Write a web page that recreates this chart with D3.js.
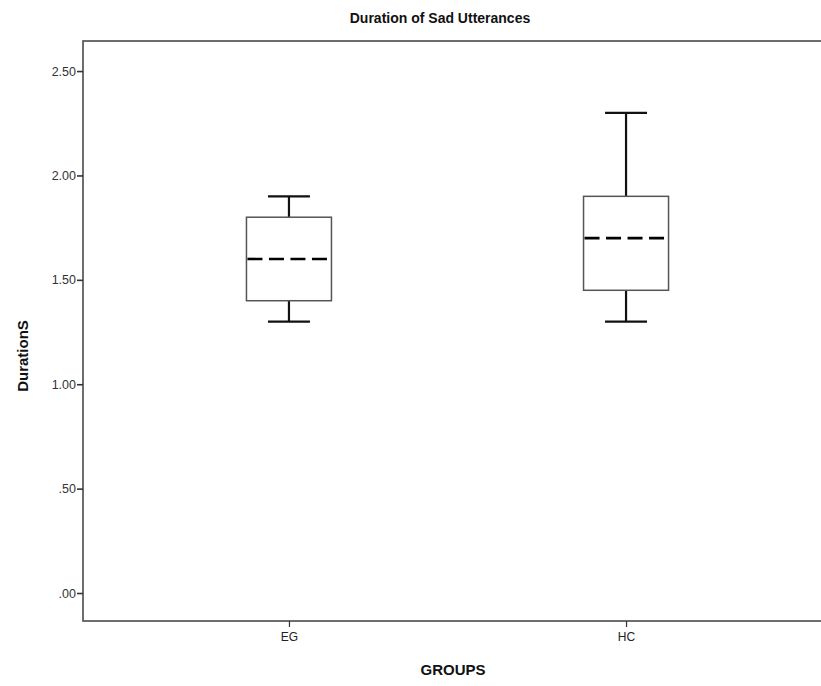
<!DOCTYPE html>
<html>
<head>
<meta charset="utf-8">
<script src="https://cdn.jsdelivr.net/npm/d3@7"></script>
<style>
  html, body { margin: 0; padding: 0; background: #fff; }
  svg { display: block; font-family: Arial, "Liberation Sans", sans-serif; }
</style>
</head>
<body>
<svg id="chart" width="821" height="686"></svg>
<script>
// Box-plot summaries per group (duration in seconds)
const groups = ["EG", "HC"];
const whiskerLow  = [1.30, 1.30];
const q1          = [1.40, 1.45];
const median      = [1.60, 1.70];
const q3          = [1.80, 1.90];
const whiskerHigh = [1.90, 2.30];
const yTicks = [0, 0.5, 1, 1.5, 2, 2.5];

const svg = d3.select("#chart");
const plot = { left: 83, right: 832, top: 41, bottom: 621 };

const x = d3.scalePoint().domain(groups).range([plot.left, plot.right]).padding(0.611);
const y = d3.scaleLinear().domain([-0.134, 2.644]).range([plot.bottom, plot.top]);

const fmt = v => d3.format(".2f")(v).replace(/^0/, "");

// Frame
svg.append("rect")
  .attr("x", plot.left).attr("y", plot.top)
  .attr("width", plot.right - plot.left).attr("height", plot.bottom - plot.top)
  .attr("fill", "none").attr("stroke", "#4a4a4a").attr("stroke-width", 1.6);

// Y axis
const yAxis = svg.append("g")
  .attr("transform", `translate(${plot.left},0)`)
  .call(d3.axisLeft(y).tickValues(yTicks).tickFormat(fmt).tickSize(6).tickPadding(1));
yAxis.select(".domain").remove();
yAxis.selectAll(".tick line").attr("stroke", "#333").attr("stroke-width", 1.6);
yAxis.selectAll(".tick text").attr("fill", "#333").style("font-size", "12.5px")
  .style("font-family", "Arial, 'Liberation Sans', sans-serif");

// X axis
const xAxis = svg.append("g")
  .attr("transform", `translate(0,${plot.bottom})`)
  .call(d3.axisBottom(x).tickSize(6).tickPadding(5));
xAxis.select(".domain").remove();
xAxis.selectAll(".tick line").attr("stroke", "#333").attr("stroke-width", 1.2);
xAxis.selectAll(".tick text").attr("fill", "#222").style("font-size", "12px")
  .style("font-family", "Arial, 'Liberation Sans', sans-serif");

// Boxes
const boxW = 85, capW = 42;
const data = groups.map((g, i) => ({
  g, lo: whiskerLow[i], q1: q1[i], med: median[i], q3: q3[i], hi: whiskerHigh[i]
}));
const box = svg.append("g").selectAll("g").data(data).join("g");

box.append("line")
  .attr("x1", d => x(d.g)).attr("x2", d => x(d.g))
  .attr("y1", d => y(d.hi)).attr("y2", d => y(d.q3))
  .attr("stroke", "#111").attr("stroke-width", 2.2);
box.append("line")
  .attr("x1", d => x(d.g)).attr("x2", d => x(d.g))
  .attr("y1", d => y(d.q1)).attr("y2", d => y(d.lo))
  .attr("stroke", "#111").attr("stroke-width", 2.2);
box.append("line")
  .attr("x1", d => x(d.g) - capW / 2).attr("x2", d => x(d.g) + capW / 2)
  .attr("y1", d => y(d.hi)).attr("y2", d => y(d.hi))
  .attr("stroke", "#111").attr("stroke-width", 2.2);
box.append("line")
  .attr("x1", d => x(d.g) - capW / 2).attr("x2", d => x(d.g) + capW / 2)
  .attr("y1", d => y(d.lo)).attr("y2", d => y(d.lo))
  .attr("stroke", "#111").attr("stroke-width", 2.2);
box.append("rect")
  .attr("x", d => x(d.g) - boxW / 2).attr("width", boxW)
  .attr("y", d => y(d.q3)).attr("height", d => y(d.q1) - y(d.q3))
  .attr("fill", "#fff").attr("stroke", "#555").attr("stroke-width", 1.5);
box.append("line")
  .attr("x1", d => x(d.g) - boxW / 2 + 1).attr("x2", d => x(d.g) + boxW / 2 - 1)
  .attr("y1", d => y(d.med)).attr("y2", d => y(d.med))
  .attr("stroke", "#000").attr("stroke-width", 2.6)
  .attr("stroke-dasharray", "15,6.5");

// Titles
svg.append("text")
  .attr("x", 440).attr("y", 23).attr("text-anchor", "middle")
  .style("font-size", "14px").style("font-weight", "bold").attr("fill", "#111")
  .text("Duration of Sad Utterances");
svg.append("text")
  .attr("transform", "translate(28,356) rotate(-90)").attr("text-anchor", "middle")
  .style("font-size", "15px").style("font-weight", "bold").attr("fill", "#111")
  .text("DurationS");
svg.append("text")
  .attr("x", 453).attr("y", 675).attr("text-anchor", "middle")
  .style("font-size", "15px").style("font-weight", "bold").attr("fill", "#111")
  .text("GROUPS");
</script>
</body>
</html>
